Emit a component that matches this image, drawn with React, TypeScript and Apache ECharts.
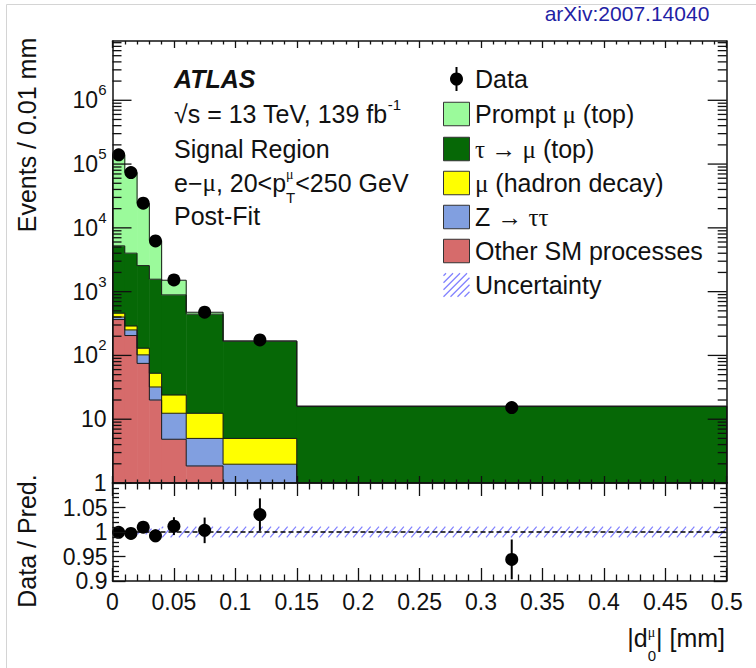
import React, { useEffect, useRef } from 'react';
import * as echarts from 'echarts';

// ---------------- data ----------------
const binEdges = [0, 0.01, 0.02, 0.03, 0.04, 0.06, 0.09, 0.15, 0.5];
const dataEvents = [139900, 73700, 24400, 6250, 1528, 477, 175, 15.2];
const dataRelErr = [0.003, 0.004, 0.006, 0.013, 0.018, 0.026, 0.032, 0.043];
const otherSM = [365, 205, 75, 20, 4.85, 1.85, 0.8, 0.05];
const zTauTau = [35, 46, 27, 12, 7.55, 3.15, 1.17, 0.15];
const muHadron = [60, 39, 28, 20.6, 11.6, 7.4, 3.03, 0.4];
const tauToMu = [4760, 3720, 2430, 1514, 865, 431, 162, 15.2];
const promptMu = [134780, 69900, 21600, 4733, 621, 32, 2, 0.3];
const predRelUnc = [0.004, 0.004, 0.005, 0.007, 0.011, 0.011, 0.011, 0.011];
const yDecades = [0, 1, 2, 3, 4, 5, 6];

const SANS = '"Liberation Sans", Arial, Helvetica, sans-serif';
const SERIF = '"Liberation Serif", "Times New Roman", serif';
const INK = '#111111';
const Y_MIN = 1;
const Y_MAX = 8.5e6;
const X_MIN = 0;
const X_MAX = 0.5;
const HATCH = '#8080ff';

const nBins = dataEvents.length;
const centers = binEdges.slice(0, -1).map((e, i) => (e + binEdges[i + 1]) / 2);

const stackComps = [
  { values: otherSM, color: '#d66b6b' },
  { values: zTauTau, color: '#819fe0' },
  { values: muHadron, color: '#ffff00' },
  { values: tauToMu, color: '#066806' },
  { values: promptMu, color: '#9bfa9b' },
];

const cum: number[][] = stackComps.map((_, k) =>
  centers.map((_, i) => stackComps.slice(0, k + 1).reduce((s, c) => s + c.values[i], 0))
);
const totalPred = cum[cum.length - 1];
const ratios = dataEvents.map((d, i) => d / totalPred[i]);

function hatch(x0: number, x1: number, yTop: number, yBot: number, spacing: number, slope: number, originX: number) {
  const h = yBot - yTop;
  const dx = h * slope;
  const out: any[] = [];
  if (h <= 0 || x1 <= x0) return out;
  const k0 = Math.floor((x0 - dx - originX) / spacing);
  const k1 = Math.ceil((x1 - originX) / spacing);
  for (let k = k0; k <= k1; k++) {
    const xb = originX + k * spacing;
    const tA = Math.max(0, (x0 - xb) / dx);
    const tB = Math.min(1, (x1 - xb) / dx);
    if (tB - tA <= 1e-6) continue;
    out.push({ x1: xb + tA * dx, y1: yBot - tA * h, x2: xb + tB * dx, y2: yBot - tB * h });
  }
  return out;
}

let measureCtx: CanvasRenderingContext2D | null = null;
function measure(text: string, size: number, fam: string, weight = 'normal', style = 'normal') {
  if (!measureCtx) measureCtx = document.createElement('canvas').getContext('2d');
  if (!measureCtx) return text.length * size * 0.55;
  measureCtx.font = `${style} ${weight} ${size}px ${fam}`;
  return measureCtx.measureText(text).width;
}

type Seg = { t: string; size: number; fam?: string; dy?: number; noAdvance?: boolean };
function segs(x: number, y: number, list: Seg[], right = false) {
  const widths = list.map((s) => measure(s.t, s.size, s.fam || SANS));
  let total = 0;
  list.forEach((s, i) => { if (!s.noAdvance) total += widths[i]; });
  let cx = right ? x - total : x;
  const out: any[] = [];
  list.forEach((s, i) => {
    out.push({
      type: 'text', x: cx, y: y + (s.dy || 0), z: 20,
      style: { text: s.t, fontSize: s.size, fontFamily: s.fam || SANS, fill: INK, align: 'left', verticalAlign: 'middle' },
    });
    if (!s.noAdvance) cx += widths[i];
  });
  return out;
}

function buildOption(): any {
  const GL = 112.5, GW = 614.2;
  const lineStyle = { stroke: '#1a1a1a', lineWidth: 1 };

  const stackSeries = stackComps.map((c, k) => ({
    type: 'custom', xAxisIndex: 0, yAxisIndex: 0, z: 2, clip: true,
    encode: { x: [0, 1], y: [3] },
    data: centers.map((_, i) => [
      binEdges[i], binEdges[i + 1], k ? cum[k - 1][i] : 0, cum[k][i], i < nBins - 1 ? cum[k][i + 1] : 0, i,
    ]),
    renderItem: (params: any, api: any) => {
      const xLo = api.value(0), xHi = api.value(1), lo = api.value(2), hi = api.value(3), nx = api.value(4), idx = api.value(5);
      const cy = (v: number) => api.coord([xLo, Math.min(Math.max(v, Y_MIN), Y_MAX)])[1];
      const xl = api.coord([xLo, Y_MIN])[0];
      const xr = api.coord([xHi, Y_MIN])[0];
      const yTop = cy(hi), yBot = cy(lo), yNext = cy(nx), yBase = cy(Y_MIN);
      const ch: any[] = [];
      if (yBot - yTop > 0.01) {
        ch.push({ type: 'rect', shape: { x: xl, y: yTop, width: xr - xl + (idx < nBins - 1 ? 0.5 : 0), height: yBot - yTop + 0.3 }, style: { fill: c.color }, z2: 1 });
      }
      if (hi > Y_MIN) ch.push({ type: 'line', shape: { x1: xl, y1: yTop, x2: xr, y2: yTop }, style: lineStyle, z2: 5 });
      if (Math.abs(yNext - yTop) > 0.01) ch.push({ type: 'line', shape: { x1: xr, y1: yTop, x2: xr, y2: yNext }, style: lineStyle, z2: 5 });
      if (idx === 0 && hi > Y_MIN) ch.push({ type: 'line', shape: { x1: xl, y1: yBase, x2: xl, y2: yTop }, style: lineStyle, z2: 5 });
      return { type: 'group', children: ch };
    },
  }));

  // log-axis ticks (major at decades, minor at 2..9)
  const yTickData: number[][] = [];
  yDecades.forEach((d) => {
    for (let m = 1; m <= 9; m++) {
      const v = m * Math.pow(10, d);
      if (v <= Y_MAX) yTickData.push([X_MIN, v, m === 1 ? 1 : 0]);
    }
  });
  const yTickSeries = {
    type: 'custom', xAxisIndex: 0, yAxisIndex: 0, z: 12, encode: { x: 0, y: 1 },
    data: yTickData,
    renderItem: (params: any, api: any) => {
      const v = api.value(1);
      const len = api.value(2) ? 19 : 9;
      const p = api.coord([X_MIN, v]);
      const q = api.coord([X_MAX, v]);
      const st = { stroke: INK, lineWidth: 1.3 };
      return {
        type: 'group', children: [
          { type: 'line', shape: { x1: p[0], y1: p[1], x2: p[0] + len, y2: p[1] }, style: st },
          { type: 'line', shape: { x1: q[0], y1: q[1], x2: q[0] - len, y2: q[1] }, style: st },
        ],
      };
    },
  };

  const dotStyle = { color: '#000000', opacity: 1, borderWidth: 0 };
  const dataMain = {
    type: 'scatter', xAxisIndex: 0, yAxisIndex: 0, z: 8, symbol: 'circle', symbolSize: 13,
    itemStyle: dotStyle, emphasis: { disabled: true },
    data: centers.map((x, i) => [x, dataEvents[i]]),
  };
  const dataMainErr = {
    type: 'custom', xAxisIndex: 0, yAxisIndex: 0, z: 8, encode: { x: 0, y: [1, 2] },
    data: centers.map((x, i) => [x, dataEvents[i] * (1 - dataRelErr[i]), dataEvents[i] * (1 + dataRelErr[i])]),
    renderItem: (params: any, api: any) => {
      const a = api.coord([api.value(0), api.value(1)]);
      const b = api.coord([api.value(0), api.value(2)]);
      return { type: 'line', shape: { x1: a[0], y1: a[1], x2: b[0], y2: b[1] }, style: { stroke: '#000', lineWidth: 2 } };
    },
  };

  const ratioBand = {
    type: 'custom', xAxisIndex: 2, yAxisIndex: 2, z: 2, encode: { x: [0, 1], y: [2, 3] },
    data: centers.map((_, i) => [binEdges[i], binEdges[i + 1], 1 - predRelUnc[i], 1 + predRelUnc[i]]),
    renderItem: (params: any, api: any) => {
      const a = api.coord([api.value(0), api.value(3)]);
      const b = api.coord([api.value(1), api.value(2)]);
      const lines = hatch(a[0], b[0], a[1], b[1], 8.3, 0.85, GL);
      return {
        type: 'group',
        children: lines.map((s) => ({ type: 'line', shape: s, style: { stroke: HATCH, lineWidth: 1.2 } })),
      };
    },
  };
  const ratioLine = {
    type: 'line', xAxisIndex: 2, yAxisIndex: 2, z: 4, symbol: 'none', silent: true,
    data: [[X_MIN, 1], [X_MAX, 1]],
    lineStyle: { color: '#000', width: 1.4, type: [5, 3] },
  };
  const ratioPts = {
    type: 'scatter', xAxisIndex: 2, yAxisIndex: 2, z: 8, symbol: 'circle', symbolSize: 13,
    itemStyle: dotStyle, emphasis: { disabled: true },
    data: centers.map((x, i) => [x, ratios[i]]),
  };
  const ratioErr = {
    type: 'custom', xAxisIndex: 2, yAxisIndex: 2, z: 8, encode: { x: 0, y: [1, 2] },
    data: centers.map((x, i) => [x, ratios[i] * (1 - dataRelErr[i]), ratios[i] * (1 + dataRelErr[i])]),
    renderItem: (params: any, api: any) => {
      const a = api.coord([api.value(0), api.value(1)]);
      const b = api.coord([api.value(0), api.value(2)]);
      return { type: 'line', shape: { x1: a[0], y1: a[1], x2: b[0], y2: b[1] }, style: { stroke: '#000', lineWidth: 2 } };
    },
  };

  const axisLine = { show: true, onZero: false, lineStyle: { color: INK, width: 1.5 } };
  const tickLS = { color: INK, width: 1.3 };
  const xAxisBase = (grid: number, pos: string, major: number, minor: number, labels: boolean) => ({
    gridIndex: grid, type: 'value', min: X_MIN, max: X_MAX, interval: 0.05, position: pos, z: 10,
    axisLine, splitLine: { show: false }, minorSplitLine: { show: false },
    axisTick: { show: true, inside: true, length: major, lineStyle: tickLS },
    minorTick: { show: true, splitNumber: 5, length: minor, lineStyle: tickLS },
    axisLabel: labels
      ? {
          show: true, fontSize: 23, fontFamily: SANS, color: INK, margin: 9, showMinLabel: true, showMaxLabel: true,
          formatter: (v: number) => String(+v.toFixed(2)),
        }
      : { show: false },
  });
  const ratioY = (pos: string, labels: boolean) => ({
    gridIndex: 1, type: 'value', min: 0.9, max: 1.1, interval: 0.05, position: pos, z: 10,
    axisLine, splitLine: { show: false }, minorSplitLine: { show: false },
    axisTick: { show: true, inside: true, length: 13, lineStyle: tickLS },
    minorTick: { show: true, splitNumber: 5, length: 6.5, lineStyle: tickLS },
    axisLabel: labels
      ? {
          show: true, fontSize: 23, fontFamily: SANS, color: INK, margin: 5, showMinLabel: true, showMaxLabel: true,
          formatter: (v: number) => (v > 1.09 ? '' : String(+v.toFixed(2))),
        }
      : { show: false },
  });
  const logY = (pos: string, labels: boolean) => ({
    gridIndex: 0, type: 'log', logBase: 10, min: Y_MIN, max: Y_MAX, position: pos, z: 10,
    axisLine, splitLine: { show: false }, axisTick: { show: false }, minorTick: { show: false },
    axisLabel: labels
      ? {
          show: true, margin: 6, showMinLabel: true, showMaxLabel: true,
          formatter: (v: number) => {
            const e = Math.log10(v);
            const r = Math.round(e);
            if (Math.abs(e - r) > 1e-6 || r > 6) return '';
            if (r === 0) return '{b|1}';
            if (r === 1) return '{b|10}';
            return `{b|10}{s|${r}}`;
          },
          rich: {
            b: { fontSize: 23, fontFamily: SANS, color: INK, lineHeight: 36, verticalAlign: 'middle' },
            s: { fontSize: 15, fontFamily: SANS, color: INK, lineHeight: 17, verticalAlign: 'top' },
          },
        }
      : { show: false },
  });

  // ---------- graphic: texts & legend ----------
  const g: any[] = [];
  g.push({ type: 'rect', shape: { x: 6.5, y: 4.5, width: 900, height: 900 }, style: { fill: 'none', stroke: '#d4d4d4', lineWidth: 1 }, z: 0, silent: true });
  g.push({ type: 'text', x: 627, y: 13, z: 20, style: { text: 'arXiv:2007.14040', fontSize: 21, fontFamily: SANS, fill: '#1f22a4', align: 'center', verticalAlign: 'middle' } });
  g.push({ type: 'text', x: 27, y: 135, rotation: Math.PI / 2, z: 20, style: { text: 'Events / 0.01 mm', fontSize: 25, fontFamily: SANS, fill: INK, align: 'center', verticalAlign: 'middle' } });
  g.push({ type: 'text', x: 27, y: 541, rotation: Math.PI / 2, z: 20, style: { text: 'Data / Pred.', fontSize: 25, fontFamily: SANS, fill: INK, align: 'center', verticalAlign: 'middle' } });

  // ATLAS block
  g.push({ type: 'text', x: 174, y: 79, z: 20, style: { text: 'ATLAS', fontSize: 25, fontFamily: SANS, fontWeight: 'bold', fontStyle: 'italic', fill: INK, align: 'left', verticalAlign: 'middle' } });
  g.push({
    type: 'text', x: 174, y: 114, z: 20,
    style: {
      text: '{n|√s = 13 TeV, 139 fb}{s|-1}', align: 'left', verticalAlign: 'middle', fill: INK,
      rich: {
        n: { fontSize: 25, fontFamily: SANS, fill: INK, lineHeight: 34, verticalAlign: 'middle' },
        s: { fontSize: 15, fontFamily: SANS, fill: INK, lineHeight: 16, verticalAlign: 'top' },
      },
    },
  });
  g.push({ type: 'text', x: 174, y: 148.5, z: 20, style: { text: 'Signal Region', fontSize: 25, fontFamily: SANS, fill: INK, align: 'left', verticalAlign: 'middle' } });
  g.push(...segs(174, 182.5, [
    { t: 'e−', size: 25 },
    { t: 'μ', size: 25, fam: SERIF },
    { t: ', 20<p', size: 25 },
    { t: 'μ', size: 14, fam: SERIF, dy: -8, noAdvance: true },
    { t: 'T', size: 15, dy: 15 },
    { t: '<250 GeV', size: 25 },
  ]));
  g.push({ type: 'text', x: 174, y: 216, z: 20, style: { text: 'Post-Fit', fontSize: 25, fontFamily: SANS, fill: INK, align: 'left', verticalAlign: 'middle' } });

  // legend
  const LX = 443.5, LW = 26, LH = 23.5, TX = 475;
  const rows = [79, 114, 149, 183, 217, 251, 285];
  const legendTexts = [
    'Data',
    'Prompt {g|μ} (top)',
    '{g|τ → μ} (top)',
    '{g|μ} (hadron decay)',
    'Z {g|→ ττ}',
    'Other SM processes',
    'Uncertainty',
  ];
  const legendColors = [null, stackComps[4].color, stackComps[3].color, stackComps[2].color, stackComps[1].color, stackComps[0].color];
  rows.forEach((y, i) => {
    g.push({
      type: 'text', x: TX, y, z: 20,
      style: {
        text: legendTexts[i], fontSize: 25, fontFamily: SANS, fill: INK, align: 'left', verticalAlign: 'middle',
        rich: { g: { fontSize: 25, fontFamily: SERIF, fill: INK } },
      },
    });
    if (i >= 1 && i <= 5) {
      g.push({ type: 'rect', z: 20, shape: { x: LX, y: y - LH / 2, width: LW, height: LH }, style: { fill: legendColors[i], stroke: '#333', lineWidth: 1 } });
    }
  });
  g.push({ type: 'line', z: 20, shape: { x1: LX + LW / 2, y1: 67, x2: LX + LW / 2, y2: 91 }, style: { stroke: '#000', lineWidth: 2 } });
  g.push({ type: 'circle', z: 21, shape: { cx: LX + LW / 2, cy: 79, r: 6.5 }, style: { fill: '#000' } });
  hatch(LX, LX + LW, rows[6] - LH / 2, rows[6] + LH / 2, 7, 1, LX).forEach((s) => {
    g.push({ type: 'line', z: 20, shape: s, style: { stroke: HATCH, lineWidth: 1.2 } });
  });

  // x-axis title |d0^mu| [mm]
  g.push(...segs(725, 638, [
    { t: '|d', size: 25 },
    { t: 'μ', size: 14, fam: SERIF, dy: -6, noAdvance: true },
    { t: '0', size: 15, dy: 17 },
    { t: '| [mm]', size: 25 },
  ], true));

  return {
    animation: false,
    backgroundColor: '#ffffff',
    grid: [
      { left: GL, top: 41, width: GW, height: 442, containLabel: false, outerBoundsMode: 'none' },
      { left: GL, top: 483, width: GW, height: 98, containLabel: false, outerBoundsMode: 'none' },
    ],
    xAxis: [
      xAxisBase(0, 'bottom', 7, 3.5, false),
      xAxisBase(0, 'top', 7, 3.5, false),
      xAxisBase(1, 'bottom', 13, 6.5, true),
      xAxisBase(1, 'top', 13, 6.5, false),
    ],
    yAxis: [logY('left', true), logY('right', false), ratioY('left', true), ratioY('right', false)],
    series: [...stackSeries, yTickSeries, dataMainErr, dataMain, ratioBand, ratioLine, ratioErr, ratioPts],
    graphic: g,
  };
}

export default function App() {
  const ref = useRef<HTMLDivElement>(null);
  useEffect(() => {
    if (!ref.current) return;
    const chart = echarts.init(ref.current, null, { renderer: 'svg' });
    chart.setOption(buildOption());
    return () => chart.dispose();
  }, []);
  return (
    <div
      ref={ref}
      style={{ position: 'absolute', left: 0, top: 0, width: 756, height: 668, background: '#ffffff' }}
    />
  );
}
